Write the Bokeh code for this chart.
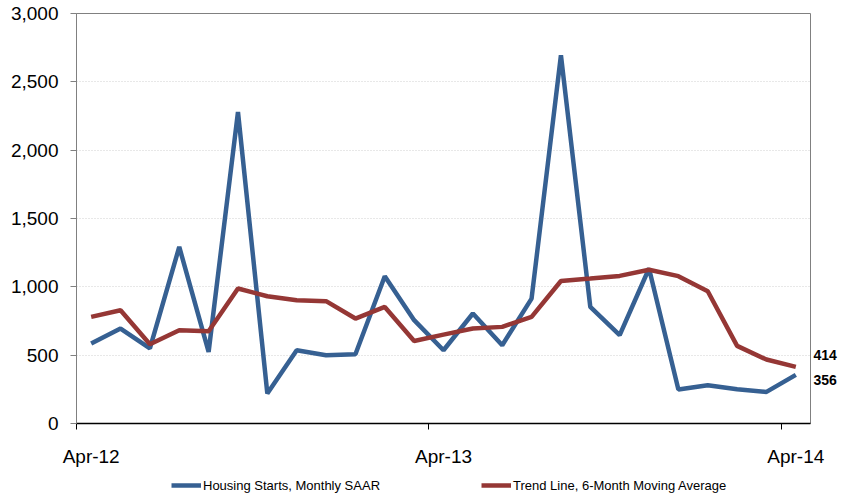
from bokeh.plotting import figure
from bokeh.layouts import column
from bokeh.models import (Range1d, FixedTicker, NumeralTickFormatter, Legend, LegendItem, LinearAxis)
from bokeh.embed import file_html
from bokeh.resources import INLINE

# ---- data ----
months = ["Apr-12", "May-12", "Jun-12", "Jul-12", "Aug-12", "Sep-12", "Oct-12", "Nov-12",
          "Dec-12", "Jan-13", "Feb-13", "Mar-13", "Apr-13", "May-13", "Jun-13", "Jul-13",
          "Aug-13", "Sep-13", "Oct-13", "Nov-13", "Dec-13", "Jan-14", "Feb-14", "Mar-14", "Apr-14"]
starts = [585, 695, 549, 1292, 524, 2280, 219, 536, 500, 507, 1078, 756, 536,
          805, 573, 914, 2695, 853, 646, 1134, 249, 280, 250, 231, 356]
trend = [780, 829, 580, 683, 675, 988, 931, 902, 895, 768, 853, 604, 650,
         695, 707, 780, 1043, 1061, 1080, 1125, 1078, 968, 568, 468, 414]
tick_labels = {0: "Apr-12", 12: "Apr-13", 24: "Apr-14"}
y_ticks = [0, 500, 1000, 1500, 2000, 2500, 3000]
series_names = ["Housing Starts, Monthly SAAR", "Trend Line, 6-Month Moving Average"]

BLUE = "#366092"
RED = "#953735"
FONT = "Liberation Sans"
LW = 4.5

x = list(range(len(months)))

p = figure(width=841, height=470, output_backend="svg", toolbar_location=None,
           x_range=Range1d(-0.5, len(months) - 0.5), y_range=Range1d(0, 3000),
           min_border_left=76, min_border_right=31, min_border_top=13, min_border_bottom=47)
p.background_fill_color = "white"
p.border_fill_color = "white"
p.outline_line_color = "#808080"
p.outline_line_width = 1

p.line(x, starts, line_color=BLUE, line_width=LW)
p.line(x, trend, line_color=RED, line_width=LW)

# x axis: labels at data points, tick marks at category boundaries (minor ticks)
xa = p.xaxis[0]
xa.ticker = FixedTicker(ticks=list(tick_labels.keys()),
                        minor_ticks=[k - 0.5 for k in tick_labels.keys()])
xa.major_label_overrides = tick_labels
xa.major_tick_line_color = None
xa.major_tick_out = 0
xa.major_tick_in = 0
xa.minor_tick_line_color = "black"
xa.minor_tick_out = 6
xa.minor_tick_in = 0
xa.axis_line_color = "black"
xa.axis_line_width = 1.5
xa.major_label_standoff = 16
xa.major_label_text_font = FONT
xa.major_label_text_font_size = "19px"
xa.major_label_text_color = "black"

ya = p.yaxis[0]
ya.ticker = FixedTicker(ticks=y_ticks)
ya.formatter = NumeralTickFormatter(format="0,0")
ya.axis_line_color = "#808080"
ya.major_tick_line_color = "#808080"
ya.major_tick_out = 6
ya.major_tick_in = 0
ya.minor_tick_line_color = None
ya.major_label_standoff = 12
ya.major_label_text_font = FONT
ya.major_label_text_font_size = "19px"
ya.major_label_text_color = "black"

# right-hand axis carrying the latest values (shifted apart so they do not overlap)
end_vals = [trend[-1], starts[-1]]
end_pos = [trend[-1] + 85, starts[-1] - 40]
ra = LinearAxis(ticker=FixedTicker(ticks=end_pos),
                major_label_overrides={pos: f"{v:,}" for pos, v in zip(end_pos, end_vals)},
                axis_line_color=None, major_tick_line_color=None, minor_tick_line_color=None,
                major_tick_out=0, major_tick_in=0, major_label_standoff=3,
                major_label_text_font=FONT, major_label_text_font_style="bold",
                major_label_text_font_size="14px", major_label_text_color="black")
p.add_layout(ra, "right")

p.xgrid.grid_line_color = None
p.ygrid.ticker = FixedTicker(ticks=y_ticks[1:-1])
p.ygrid.grid_line_color = "#d0d0d0"
p.ygrid.grid_line_dash = "1 2"
p.ygrid.grid_line_width = 1

# legend strip below the chart (its lines lie outside this strip's visible range)
lf = figure(width=841, height=31, output_backend="svg", toolbar_location=None,
            x_range=Range1d(1000, 1001), y_range=Range1d(0, 1),
            x_axis_location=None, y_axis_location=None, min_border=0)
lf.outline_line_color = None
lf.grid.grid_line_color = None
lb = lf.line(x, starts, line_color=BLUE, line_width=LW)
lr = lf.line(x, trend, line_color=RED, line_width=LW)
legend = Legend(items=[LegendItem(label=series_names[0], renderers=[lb]),
                       LegendItem(label=series_names[1], renderers=[lr])],
                orientation="horizontal", location=(95, 6),
                spacing=101, padding=0, margin=0, glyph_width=30, glyph_height=20,
                label_height=20, label_standoff=2, border_line_color=None,
                background_fill_alpha=0,
                label_text_font=FONT, label_text_font_size="13px", label_text_color="black")
lf.add_layout(legend, "center")

open("out.html", "w").write(file_html(column(p, lf, spacing=0), INLINE))
